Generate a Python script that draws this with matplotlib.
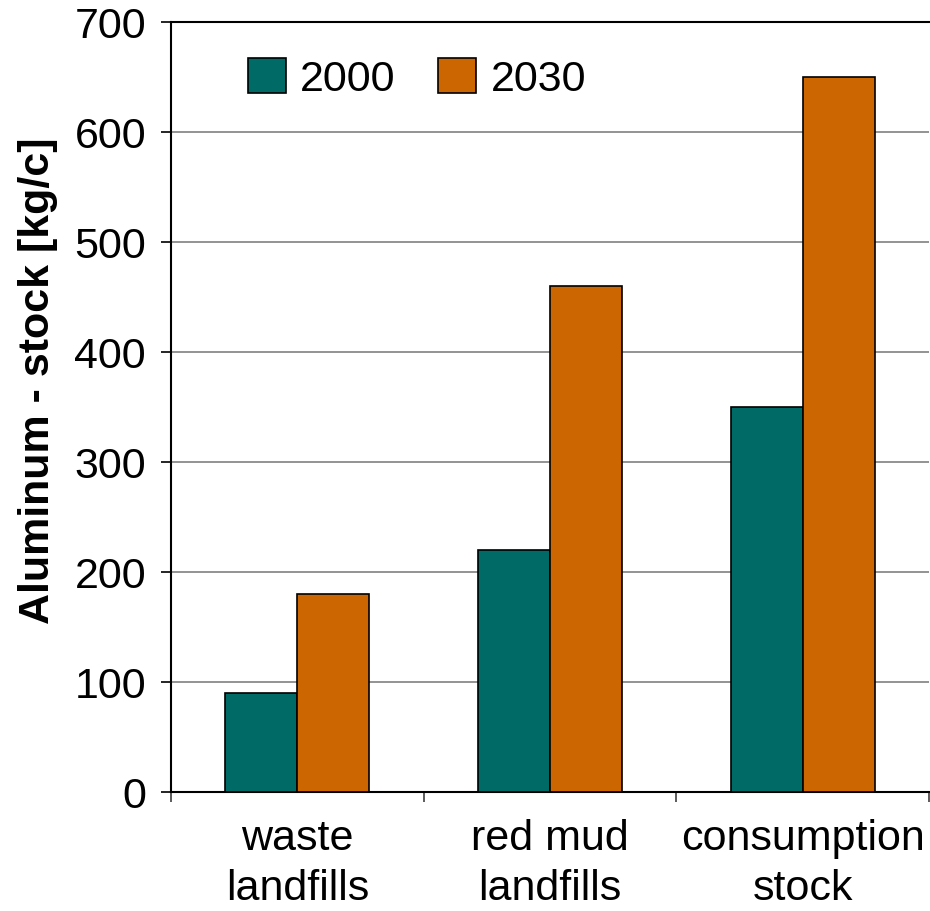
import matplotlib
matplotlib.use('Agg')
import matplotlib.pyplot as plt
import numpy as np

categories = ['waste\nlandfills', 'red mud\nlandfills', 'consumption\nstock']
series_names = ['2000', '2030']
values_2000 = [90, 220, 350]
values_2030 = [180, 460, 650]
colors = ['#006A66', '#CC6600']

plt.rcParams['font.family'] = ['Liberation Sans', 'DejaVu Sans']
fs = 31

fig = plt.figure(figsize=(9.3, 9.12), dpi=100)
ax = fig.add_axes([171/930, 1 - 793/912, 758/930, (793 - 23)/912])

x = np.arange(len(categories))
w = 0.285
ax.bar(x - w/2, values_2000, w, color=colors[0], edgecolor='black', linewidth=1.2,
       label=series_names[0], zorder=3)
ax.bar(x + w/2, values_2030, w, color=colors[1], edgecolor='black', linewidth=1.2,
       label=series_names[1], zorder=3)

ax.set_xlim(-0.5, len(categories) - 0.5)
ax.set_ylim(0, 700)
ax.set_yticks(np.arange(0, 701, 100))
ax.yaxis.grid(True, color='#808080', linewidth=1.2, zorder=0)

ax.set_xticks(x)
ax.set_xticklabels(categories, fontsize=fs, linespacing=1.3)
ax.tick_params(axis='x', length=0, pad=19)
ax.set_xticks(np.arange(-0.5, len(categories)), minor=True)
ax.tick_params(axis='x', which='minor', length=7, width=1.2, color='#404040')
ax.tick_params(axis='y', labelsize=fs, length=7, width=1.2, pad=11)

ax.spines['right'].set_visible(False)
ax.spines['top'].set_linewidth(1.5)
ax.spines['left'].set_linewidth(1.5)
ax.spines['bottom'].set_linewidth(1.5)

ax.set_ylabel('Aluminum - stock [kg/c]', fontsize=fs, fontweight='bold', labelpad=12)
ax.yaxis.label.set_y(0.536)

ax.legend(loc='upper left', bbox_to_anchor=(0.05, 1.004), ncol=2, frameon=False,
          fontsize=fs, handlelength=0.88, handleheight=0.88, handletextpad=0.33,
          columnspacing=1.0)

fig.savefig('out.png', dpi=100)
